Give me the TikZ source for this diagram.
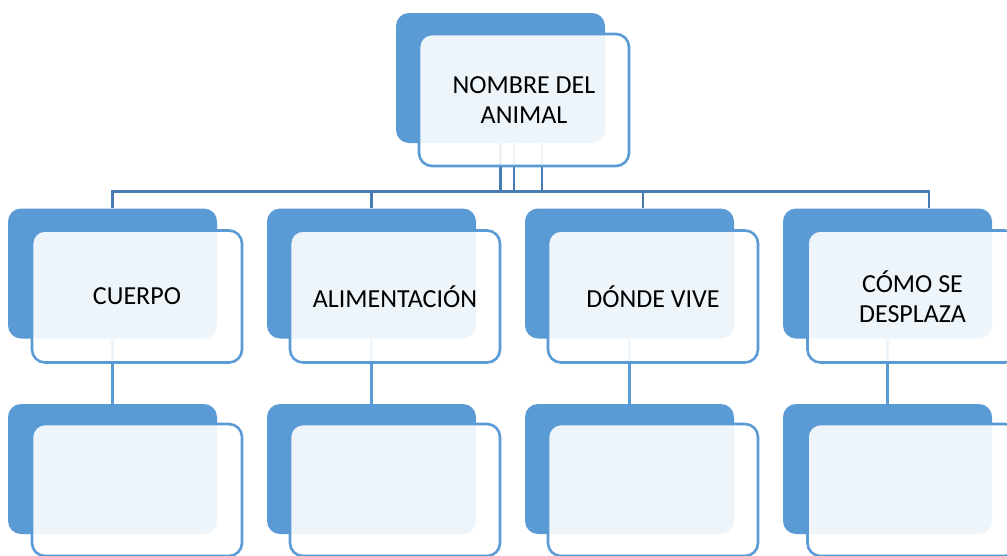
\documentclass[tikz,border=0pt]{standalone}
\usepackage{fontspec}
\setmainfont{Carlito}
\usetikzlibrary{calc}
\definecolor{accent}{HTML}{5B9BD5}
\definecolor{connDark}{HTML}{4A7CB4}
\begin{document}
\begin{tikzpicture}[x=1pt,y=-1pt,
  backbox/.style={rectangle,rounded corners=13pt,fill=accent,minimum width=209pt,minimum height=130pt,inner sep=0pt},
  frontbox/.style={rectangle,rounded corners=13pt,draw=accent,line width=2.6pt,fill=white,fill opacity=0.9,text opacity=1,minimum width=210pt,minimum height=132pt,inner sep=0pt,align=center,font=\fontsize{26}{30}\selectfont},
  upconn/.style={draw=connDark,line width=2.8pt},
  lowconn/.style={draw=accent,line width=2.6pt}]
\useasboundingbox (0,0) rectangle (1007,555);
% back boxes
\node[backbox] (tb) at (500.5,78) {};
\node[backbox] (b1) at (112.5,273.5) {};
\node[backbox] (b2) at (371.5,273.5) {};
\node[backbox] (b3) at (629.5,273.5) {};
\node[backbox] (b4) at (887.5,273.5) {};
\node[backbox] (c1) at (112.5,469) {};
\node[backbox] (c2) at (371.5,469) {};
\node[backbox] (c3) at (629.5,469) {};
\node[backbox] (c4) at (887.5,469) {};
% connectors
\draw[upconn] (tb.south) -- ++(0,48) -| (b1.north);
\draw[upconn] ($(tb.south)+(13.5,0)$) -- ++(0,48) -| (b2.north);
\draw[upconn] ($(tb.south)+(41.5,0)$) -- ++(0,48) -| ($(b3.north)+(13.5,0)$);
\draw[upconn] (tb.south) -- ++(0,48) -| ($(b4.north)+(41.5,0)$);
\draw[lowconn] (b1.south) -- (c1.north);
\draw[lowconn] (b2.south) -- (c2.north);
\draw[lowconn] (b3.south) -- (c3.north);
\draw[lowconn] (b4.south) -- (c4.north);
% front boxes
\node[frontbox] (tf) at (524,100) {NOMBRE DEL\\ANIMAL};
\node[frontbox] (f1) at (137,296.5) {CUERPO};
\node[frontbox] (f2) at (395,296.5) {ALIMENTACIÓN};
\node[frontbox] (f3) at (653,296.5) {DÓNDE VIVE};
\node[frontbox] (f4) at (912.5,296.5) {CÓMO SE\\DESPLAZA};
\node[frontbox] (g1) at (137,490) {};
\node[frontbox] (g2) at (395,490) {};
\node[frontbox] (g3) at (653,490) {};
\node[frontbox] (g4) at (912.5,490) {};
\end{tikzpicture}
\end{document}
